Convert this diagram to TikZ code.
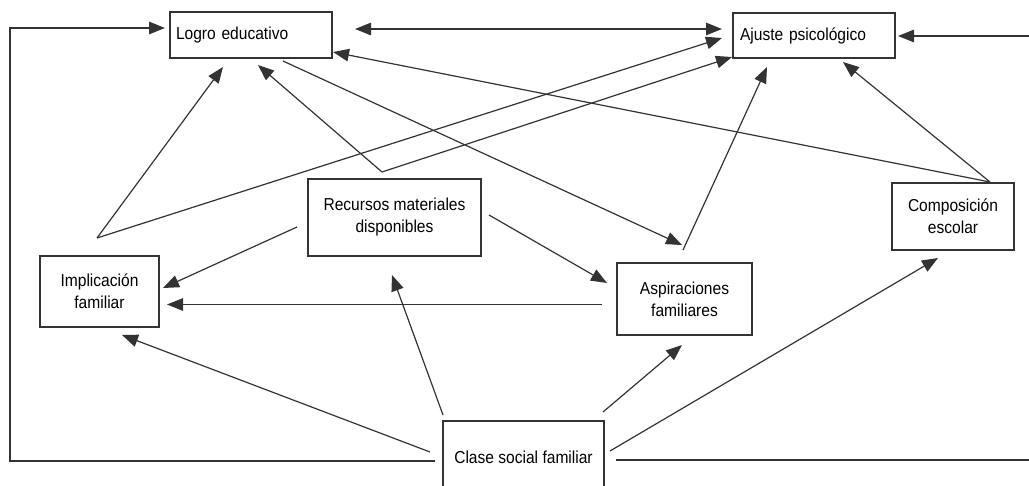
\documentclass[tikz,border=0pt]{standalone}
\usepackage{fontspec}
\setmainfont{Liberation Sans}[FakeStretch=0.9]
\usetikzlibrary{arrows.meta}
\definecolor{edge}{HTML}{333333}
\begin{document}
\begin{tikzpicture}[x=1pt,y=-1pt,
  box/.style={draw=edge, line width=1.3pt, inner sep=0pt, align=center,
    font=\fontsize{17.3}{22}\selectfont},
  link/.style={draw=edge, line width=1.2pt, -{Triangle[length=16pt,width=12.5pt]}},
  twoway/.style={draw=edge, line width=1.2pt,
    {Triangle[length=16pt,width=12.5pt]}-{Triangle[length=16pt,width=12.5pt]}}]
\useasboundingbox (0,0) rectangle (1029,486);

% variables
\node[box, minimum width=162pt, minimum height=46pt, text width=150pt, align=left]
  (logro) at (251,35) {Logro educativo};
\node[box, minimum width=162pt, minimum height=45pt, text width=148pt, align=left]
  (ajuste) at (814,35.5) {Ajuste psicológico};
\node[box, minimum width=173pt, minimum height=77pt] (recursos) at (394.5,217.5)
  {Recursos materiales\\disponibles};
\node[box, minimum width=119pt, minimum height=71pt] (implic) at (99.5,291.5)
  {Implicación\\familiar};
\node[box, minimum width=135pt, minimum height=72pt] (aspir) at (684.5,299)
  {Aspiraciones\\familiares};
\node[box, minimum width=122pt, minimum height=67pt] (compos) at (953,216.5)
  {Composición\\escolar};
\node[box, minimum width=161pt, minimum height=72pt] (clase) at (523.5,457)
  {Clase social familiar};

% connector ends
\coordinate (claseW) at (435,461);
\coordinate (claseE) at (616,460);
\coordinate (logroW) at (165,28);
\coordinate (ajusteE) at (898,36);
\coordinate (logroE) at (355,29);
\coordinate (ajusteW) at (722,29);
\coordinate (implicFan) at (97,238);
\coordinate (recursosFan) at (382,172);
\coordinate (composFan) at (990,182);
\coordinate (logroS) at (283,61);
\coordinate (aspirN) at (683,250);

% outer loops from social class
\draw[link] (claseW) -- (10,461) -- (10,28) -- (logroW);
\draw[link] (claseE) -- (1035,460) -- (1035,36) -- (ajusteE);
\draw[twoway] (logroE) -- (ajusteW);

% paths towards the outcomes
\draw[link] (implicFan) -- (223,67);
\draw[link] (implicFan) -- (722,38);
\draw[link] (recursosFan) -- (258,65);
\draw[link] (recursosFan) -- (732,57);
\draw[link] (logroS) -- (682,245);
\draw[link] (aspirN) -- (767,67);
\draw[link] (composFan) -- (333,52);
\draw[link] (composFan) -- (843,62);

% family resources and aspirations
\draw[link] (297,227) -- (163,288);
\draw[link] (489,215) -- (607,283);
\draw[link] (602,304.5) -- (167,304.5);

% social class effects
\draw[link] (443,415) -- (392,275);
\draw[link] (430,452) -- (122,335);
\draw[link] (603,412) -- (682,345);
\draw[link] (610,451) -- (938,258);
\end{tikzpicture}
\end{document}
